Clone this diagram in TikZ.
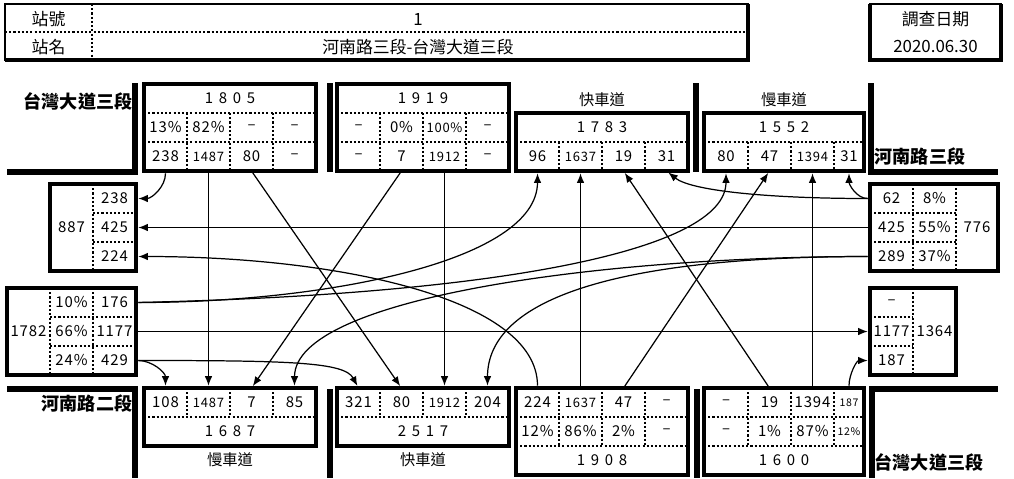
\documentclass[tikz,border=0pt]{standalone}
\usepackage{fontspec}
\usepackage{tikz}
\usetikzlibrary{arrows.meta}
\setmainfont{Noto Sans CJK TC}
\newfontfamily\numfont[LetterSpace=6]{Noto Sans CJK TC}
\newfontfamily\totfont[LetterSpace=38]{Noto Sans CJK TC}
\tikzset{
    cell/.style={inner sep=0pt, outer sep=0pt, minimum width=0.86cm, minimum height=0.58cm, font=\numfont\fontsize{8.5}{9}\selectfont},
    smcell/.style={cell, font=\numfont\fontsize{7.4}{8}\selectfont},
    tncell/.style={cell, font=\numfont\fontsize{6}{6.5}\selectfont},
    tot/.style={cell, font=\totfont\fontsize{8.5}{9}\selectfont},
    box/.style={line width=2.6pt},
    hdrbox/.style={line width=1.2pt},
    hdrshade/.style={line width=2.4pt},
    divider/.style={line width=1.3pt, dash pattern=on 1.2pt off 1.2pt},
    wall/.style={line width=3pt},
    flow/.style={line width=0.7pt, -{Latex[length=1.9mm, width=1.5mm]}, shorten >=1.3pt, shorten <=1.3pt},
    roadlbl/.style={font=\bfseries\fontsize{10.3}{12}\selectfont},
    lanelbl/.style={font=\fontsize{8.7}{10}\selectfont},
    hdr/.style={font=\fontsize{9.6}{11}\selectfont}
}
\begin{document}
\begin{tikzpicture}[x=0.02cm, y=-0.02cm]
\useasboundingbox (0,0) rectangle (1014,478);

% header
\draw[divider] (5,32) -- (748,32);
\draw[divider] (92,4) -- (92,60);
\draw[hdrbox] (5,4) rectangle (748,60);
\draw[hdrshade] (5,60) -- (748,60) -- (748,4);
\draw[hdrbox] (870,4) rectangle (1001,60);
\draw[hdrshade] (870,4) -- (870,60) -- (1001,60) -- (1001,4);
\node[hdr] (h1) at (48.5,19) {站號};
\node[hdr] (h2) at (418,19) {1};
\node[hdr] (h3) at (48.5,47) {站名};
\node[hdr] (h4) at (418,47) {河南路三段-台灣大道三段};
\node[hdr] (h5) at (935.5,19) {調查日期};
\node[hdr] (h6) at (935.5,46) {2020.06.30};

% road edges
\draw[wall] (7,172) -- (135,172) -- (135,83);
\draw[wall] (330,83) -- (330,172);
\draw[wall] (696,83) -- (696,172);
\draw[wall] (871,83) -- (871,172) -- (998,172);
\draw[wall] (7,389) -- (135,389) -- (135,478);
\draw[wall] (330,389) -- (330,478);
\draw[wall] (697,389) -- (697,478);
\draw[wall] (872,478) -- (872,389) -- (998,389);
\node[roadlbl] (rdN) at (78,101) {台灣大道三段};
\node[roadlbl] (rdE) at (920,157) {河南路三段};
\node[roadlbl] (rdW) at (87,404) {河南路二段};
\node[roadlbl] (rdS) at (929,462) {台灣大道三段};
\node[lanelbl] (lnNC) at (602,100) {快車道};
\node[lanelbl] (lnND) at (784,100) {慢車道};
\node[lanelbl] (lnSA) at (230,460) {慢車道};
\node[lanelbl] (lnSB) at (423,460) {快車道};

% dividers
\draw[divider] (144,113) -- (316,113) (144,142) -- (316,142);
\draw[divider] (187,113) -- (187,171) (230,113) -- (230,171) (273,113) -- (273,171);
\draw[divider] (337,113) -- (509,113) (337,142) -- (509,142);
\draw[divider] (380,113) -- (380,171) (423,113) -- (423,171) (466,113) -- (466,171);
\draw[divider] (516,142) -- (688,142);
\draw[divider] (559,142) -- (559,171) (602,142) -- (602,171) (645,142) -- (645,171);
\draw[divider] (704,142) -- (864,142);
\draw[divider] (748,142) -- (748,171) (791,142) -- (791,171) (834,142) -- (834,171);
\draw[divider] (144,417) -- (316,417);
\draw[divider] (187,388) -- (187,417) (230,388) -- (230,417) (273,388) -- (273,417);
\draw[divider] (337,417) -- (509,417);
\draw[divider] (380,388) -- (380,417) (423,388) -- (423,417) (466,388) -- (466,417);
\draw[divider] (516,417) -- (688,417) (516,446) -- (688,446);
\draw[divider] (559,388) -- (559,446) (602,388) -- (602,446) (645,388) -- (645,446);
\draw[divider] (704,417) -- (864,417) (704,446) -- (864,446);
\draw[divider] (748,388) -- (748,446) (791,388) -- (791,446) (834,388) -- (834,446);
\draw[divider] (93,184) -- (93,271) (93,213) -- (136,213) (93,242) -- (136,242);
\draw[divider] (50,288) -- (50,375) (93,288) -- (93,375);
\draw[divider] (50,317) -- (136,317) (50,346) -- (136,346);
\draw[divider] (913,184) -- (913,271) (956,184) -- (956,271);
\draw[divider] (870,213) -- (956,213) (870,242) -- (956,242);
\draw[divider] (913,288) -- (913,375) (870,317) -- (913,317) (870,346) -- (913,346);

% boxes
\draw[box] (144,84) rectangle (316,171);
\draw[box] (337,84) rectangle (509,171);
\draw[box] (516,113) rectangle (688,171);
\draw[box] (704,113) rectangle (864,171);
\draw[box] (144,388) rectangle (316,446);
\draw[box] (337,388) rectangle (509,446);
\draw[box] (516,388) rectangle (688,475);
\draw[box] (704,388) rectangle (864,475);
\draw[box] (50,184) rectangle (136,271);
\draw[box] (7,288) rectangle (136,375);
\draw[box] (870,184) rectangle (998,271);
\draw[box] (870,288) rectangle (956,375);

% north side
\node[tot, minimum width=3.44cm] (nAt) at (230,98.5) {1805};
\node[cell] (nAp1) at (165.5,127.5) {13\%};
\node[cell] (nAp2) at (208.5,127.5) {82\%};
\node[cell] (nAp3) at (251.5,127.5) {–};
\node[cell] (nAp4) at (294.5,127.5) {–};
\node[cell] (nA1) at (165.5,156.5) {238};
\node[smcell] (nA2) at (208.5,156.5) {1487};
\node[cell] (nA3) at (251.5,156.5) {80};
\node[cell] (nA4) at (294.5,156.5) {–};
\node[tot, minimum width=3.44cm] (nBt) at (423,98.5) {1919};
\node[cell] (nBp1) at (358.5,127.5) {–};
\node[cell] (nBp2) at (401.5,127.5) {0\%};
\node[smcell] (nBp3) at (444.5,127.5) {100\%};
\node[cell] (nBp4) at (487.5,127.5) {–};
\node[cell] (nB1) at (358.5,156.5) {–};
\node[cell] (nB2) at (401.5,156.5) {7};
\node[smcell] (nB3) at (444.5,156.5) {1912};
\node[cell] (nB4) at (487.5,156.5) {–};
\node[tot, minimum width=3.44cm] (nCt) at (602,127.5) {1783};
\node[cell] (nC1) at (537.5,156.5) {96};
\node[smcell] (nC2) at (580.5,156.5) {1637};
\node[cell] (nC3) at (623.5,156.5) {19};
\node[cell] (nC4) at (666.5,156.5) {31};
\node[tot, minimum width=3.2cm] (nDt) at (784,127.5) {1552};
\node[cell, minimum width=0.88cm] (nD1) at (726,156.5) {80};
\node[cell] (nD2) at (769.5,156.5) {47};
\node[smcell] (nD3) at (812.5,156.5) {1394};
\node[cell, minimum width=0.6cm] (nD4) at (849,156.5) {31};

% south side
\node[cell] (sA1) at (165.5,402.5) {108};
\node[smcell] (sA2) at (208.5,402.5) {1487};
\node[cell] (sA3) at (251.5,402.5) {7};
\node[cell] (sA4) at (294.5,402.5) {85};
\node[tot, minimum width=3.44cm] (sAt) at (230,431.5) {1687};
\node[cell] (sB1) at (358.5,402.5) {321};
\node[cell] (sB2) at (401.5,402.5) {80};
\node[smcell] (sB3) at (444.5,402.5) {1912};
\node[cell] (sB4) at (487.5,402.5) {204};
\node[tot, minimum width=3.44cm] (sBt) at (423,431.5) {2517};
\node[cell] (sC1) at (537.5,402.5) {224};
\node[smcell] (sC2) at (580.5,402.5) {1637};
\node[cell] (sC3) at (623.5,402.5) {47};
\node[cell] (sC4) at (666.5,402.5) {–};
\node[cell] (sCp1) at (537.5,431.5) {12\%};
\node[cell] (sCp2) at (580.5,431.5) {86\%};
\node[cell] (sCp3) at (623.5,431.5) {2\%};
\node[cell] (sCp4) at (666.5,431.5) {–};
\node[tot, minimum width=3.44cm] (sCt) at (602,460.5) {1908};
\node[cell, minimum width=0.88cm] (sD1) at (726,402.5) {–};
\node[cell] (sD2) at (769.5,402.5) {19};
\node[cell] (sD3) at (812.5,402.5) {1394};
\node[tncell, minimum width=0.6cm] (sD4) at (849,402.5) {187};
\node[cell, minimum width=0.88cm] (sDp1) at (726,431.5) {–};
\node[cell] (sDp2) at (769.5,431.5) {1\%};
\node[cell] (sDp3) at (812.5,431.5) {87\%};
\node[tncell, minimum width=0.6cm] (sDp4) at (849,431.5) {12\%};
\node[tot, minimum width=3.2cm] (sDt) at (784,460.5) {1600};

% west side
\node[cell, minimum height=1.74cm] (wOt) at (71.5,227.5) {887};
\node[cell] (wO1) at (114.5,198.5) {238};
\node[cell] (wO2) at (114.5,227.5) {425};
\node[cell] (wO3) at (114.5,256.5) {224};
\node[cell, minimum height=1.74cm] (wIt) at (28.5,331.5) {1782};
\node[cell] (wIp1) at (71.5,302.5) {10\%};
\node[cell] (wIp2) at (71.5,331.5) {66\%};
\node[cell] (wIp3) at (71.5,360.5) {24\%};
\node[cell] (wI1) at (114.5,302.5) {176};
\node[cell] (wI2) at (114.5,331.5) {1177};
\node[cell] (wI3) at (114.5,360.5) {429};

% east side
\node[cell] (eI1) at (891.5,198.5) {62};
\node[cell] (eI2) at (891.5,227.5) {425};
\node[cell] (eI3) at (891.5,256.5) {289};
\node[cell] (eIp1) at (934.5,198.5) {8\%};
\node[cell] (eIp2) at (934.5,227.5) {55\%};
\node[cell] (eIp3) at (934.5,256.5) {37\%};
\node[cell, minimum width=0.84cm, minimum height=1.74cm] (eIt) at (977,227.5) {776};
\node[cell] (eO1) at (891.5,302.5) {–};
\node[cell] (eO2) at (891.5,331.5) {1177};
\node[cell] (eO3) at (891.5,360.5) {187};
\node[cell, minimum height=1.74cm] (eOt) at (934.5,331.5) {1364};

% movements
\draw[flow] (nA1.south) to[out=-90, in=0] (wO1.east);
\draw[flow] (nA2.south) -- (sA2.north);
\draw[flow] (nA3.south) -- (sB2.north);
\draw[flow] (nB2.south) -- (sA3.north);
\draw[flow] (nB3.south) -- (sB3.north);
\draw[flow] (wI1.east) .. controls +(190,0) and +(0,90) .. (nC1.south);
\draw[flow] (wI1.east) .. controls +(360,-8) and +(0,80) .. (nD1.south);
\draw[flow] (wI2.east) -- (eO2.west);
\draw[flow] (wI3.east) to[out=0, in=90] (sA1.north);
\draw[flow] (wI3.east) .. controls +(154,0) and +(-14,-26) .. (sB1.north);
\draw[flow] (eI1.west) .. controls +(-100,0) and +(25,20) .. (nC4.south);
\draw[flow] (eI1.west) to[out=180, in=-90] (nD4.south);
\draw[flow] (eI2.west) -- (wO2.east);
\draw[flow] (eI3.west) .. controls +(-270,0) and +(0,-90) .. (sA4.north);
\draw[flow] (eI3.west) .. controls +(-250,0) and +(0,-90) .. (sB4.north);
\draw[flow] (sC1.north) .. controls +(0,-90) and +(200,0) .. (wO3.east);
\draw[flow] (sC2.north) -- (nC2.south);
\draw[flow] (sC3.north) -- (nD2.south);
\draw[flow] (sD2.north) -- (nC3.south);
\draw[flow] (sD3.north) -- (nD3.south);
\draw[flow] (sD4.north) to[out=90, in=180] (eO3.west);
\end{tikzpicture}
\end{document}
